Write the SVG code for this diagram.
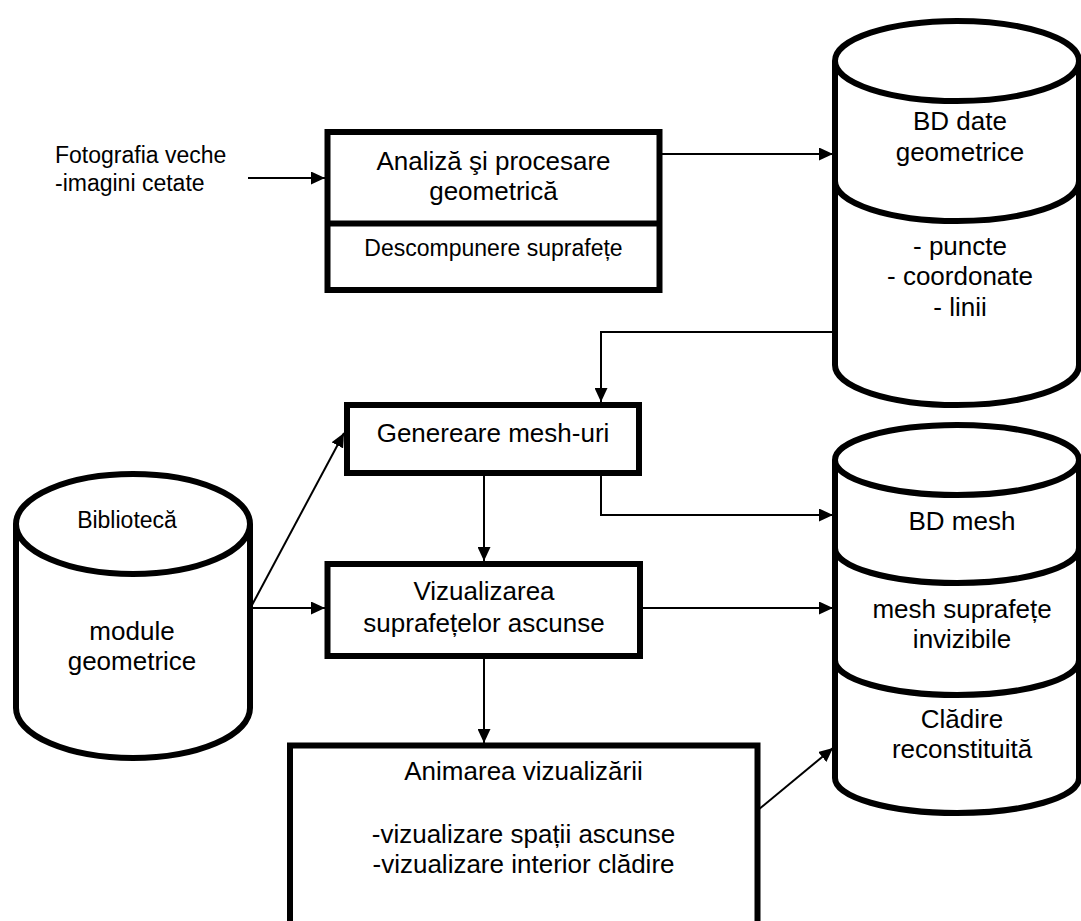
<svg xmlns="http://www.w3.org/2000/svg" width="1081" height="921" viewBox="0 0 1081 921">
<defs>
<marker id="ah" markerUnits="userSpaceOnUse" markerWidth="14" markerHeight="13" refX="14" refY="6.5" orient="auto">
<path d="M0,0 L14,6.5 L0,13 Z" fill="#000"/>
</marker>
<style>
.box{fill:#fff;stroke:#000;stroke-width:6}
.cyl{fill:#fff;stroke:#000;stroke-width:6;stroke-linejoin:round}
.con{fill:none;stroke:#000;stroke-width:2;marker-end:url(#ah)}
text{font-family:"Liberation Sans",Arial,sans-serif;fill:#000;text-anchor:middle}
.t{font-size:26px}
.s{font-size:23px}
</style>
</defs>
<rect width="1081" height="921" fill="#fff"/>

<g id="foto">
<text class="s" x="55" y="163" style="text-anchor:start">Fotografia veche</text>
<text class="s" x="55" y="191" style="text-anchor:start">-imagini cetate</text>
</g>

<g id="analiza">
<rect class="box" x="327.5" y="132" width="332" height="158"/>
<line x1="327.5" y1="223.5" x2="659.5" y2="223.5" stroke="#000" stroke-width="6"/>
<text class="t" x="493.5" y="170">Analiză şi procesare</text>
<text class="t" x="493.5" y="200">geometrică</text>
<text class="s" x="493.5" y="256">Descompunere suprafețe</text>
</g>

<g id="bd-date">
<path class="cyl" d="M835,61 L835,365 A122,40 0 0 0 1079,365 L1079,61"/>
<ellipse class="cyl" cx="957" cy="61" rx="122" ry="40"/>
<path class="cyl" d="M835,181 A122,40 0 0 0 1079,181" fill="none"/>
<text class="t" x="960" y="130">BD date</text>
<text class="t" x="960" y="161">geometrice</text>
<text class="t" x="960" y="255">- puncte</text>
<text class="t" x="960" y="285">- coordonate</text>
<text class="t" x="960" y="316">- linii</text>
</g>

<g id="genereare">
<rect class="box" x="347" y="405" width="292" height="68"/>
<text class="t" x="493" y="442">Genereare mesh-uri</text>
</g>

<g id="vizualizarea">
<rect class="box" x="327.5" y="564" width="312.5" height="92"/>
<text class="t" x="484" y="600">Vizualizarea</text>
<text class="t" x="484" y="632">suprafețelor ascunse</text>
</g>

<g id="animarea">
<path d="M290,925 L290,745.5 L757.5,745.5 L757.5,925" fill="#fff" stroke="#000" stroke-width="6"/>
<text class="t" x="523.5" y="780">Animarea vizualizării</text>
<text class="t" x="523.5" y="843">-vizualizare spații ascunse</text>
<text class="t" x="523.5" y="873">-vizualizare interior clădire</text>
</g>

<g id="biblioteca">
<path class="cyl" d="M16,524 L16,708 A117,50 0 0 0 250,708 L250,524"/>
<ellipse class="cyl" cx="133" cy="524" rx="117" ry="50"/>
<text class="s" x="127" y="528">Bibliotecă</text>
<text class="t" x="132" y="640">module</text>
<text class="t" x="132" y="670">geometrice</text>
</g>

<g id="bd-mesh">
<path class="cyl" d="M835,460 L835,778 A122,35 0 0 0 1079,778 L1079,460"/>
<ellipse class="cyl" cx="957" cy="460" rx="122" ry="35"/>
<path class="cyl" d="M835,548 A122,35 0 0 0 1079,548" fill="none"/>
<path class="cyl" d="M835,660 A122,35 0 0 0 1079,660" fill="none"/>
<text class="t" x="962" y="530">BD mesh</text>
<text class="t" x="962" y="618">mesh suprafețe</text>
<text class="t" x="962" y="648">invizibile</text>
<text class="t" x="962" y="728">Clădire</text>
<text class="t" x="962" y="758">reconstituită</text>
</g>

<g id="connectors">
<path class="con" d="M248,178 L325,178"/>
<path class="con" d="M660,154 L833,154"/>
<path class="con" d="M835,332 L601,332 L601,402"/>
<path class="con" d="M252,605 L344,433"/>
<path class="con" d="M252,608 L325,608"/>
<path class="con" d="M484,475 L484,561"/>
<path class="con" d="M601,475 L601,515 L833,515"/>
<path class="con" d="M640,608 L833,608"/>
<path class="con" d="M484,658 L484,743"/>
<path class="con" d="M758,810 L833,748"/>
</g>
</svg>
